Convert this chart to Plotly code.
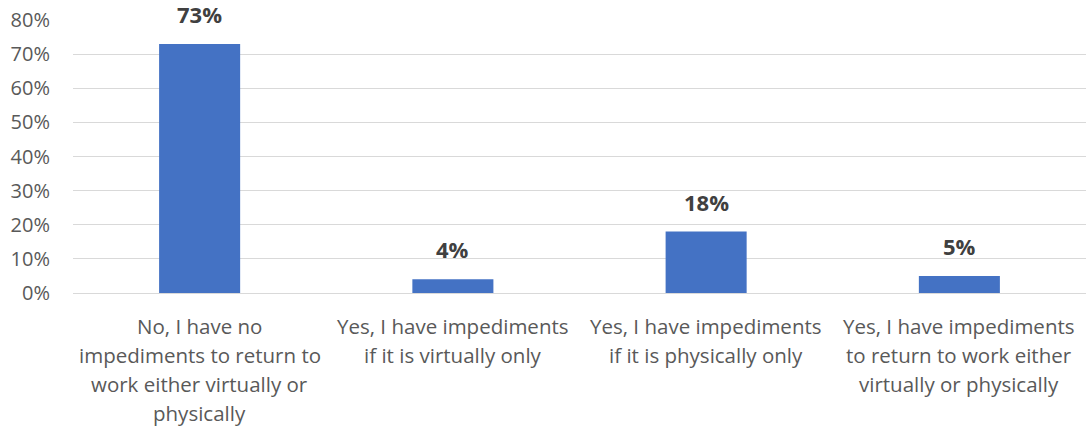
import plotly.graph_objects as go

# Survey responses: impediments to returning to work
categories = [
    "No, I have no<br>impediments to return to<br>work either virtually or<br>physically",
    "Yes, I have impediments<br>if it is virtually only",
    "Yes, I have impediments<br>if it is physically only",
    "Yes, I have impediments<br>to return to work either<br>virtually or physically",
]
shares = [0.73, 0.04, 0.18, 0.05]
y_ticks = [0, 0.1, 0.2, 0.3, 0.4, 0.5, 0.6, 0.7, 0.8]
y_tick_labels = ["0%", "10%", "20%", "30%", "40%", "50%", "60%", "70%", "80%"]

BAR_COLOR = "#4472C4"
TEXT_GRAY = "#595959"
FONT = "Open Sans"
LINE_STEP = 29  # vertical spacing between wrapped category label lines

fig = go.Figure(
    go.Bar(
        x=list(range(len(categories))),
        y=shares,
        width=0.32,
        marker=dict(color=BAR_COLOR, line=dict(width=0)),
        hoverinfo="skip",
    )
)

annotations = []
# value labels above each bar
for i, v in enumerate(shares):
    annotations.append(dict(
        x=i, y=v, xref="x", yref="y",
        text=f"<b>{v:.0%}</b>",
        showarrow=False, yanchor="bottom", yshift=13,
        font=dict(family=FONT, size=22, color="#404040"),
    ))
# wrapped category labels under the axis
for i, label in enumerate(categories):
    for j, line in enumerate(label.split("<br>")):
        annotations.append(dict(
            x=i, y=0, xref="x", yref="paper",
            text=line, showarrow=False,
            yanchor="middle", xanchor="center",
            yshift=-(33 + j * LINE_STEP),
            font=dict(family=FONT, size=20.5, color=TEXT_GRAY),
        ))

fig.update_layout(
    width=1086, height=428,
    margin=dict(l=73, r=0, t=20, b=135),
    paper_bgcolor="white", plot_bgcolor="white",
    showlegend=False,
    annotations=annotations,
    font=dict(family=FONT, color=TEXT_GRAY),
)
fig.update_xaxes(
    range=[-0.5, len(categories) - 0.5],
    showticklabels=False, showgrid=False, zeroline=False,
    showline=False, ticks="",
)
fig.update_yaxes(
    range=[0, 0.8],
    tickvals=y_ticks, ticktext=y_tick_labels,
    tickfont=dict(family=FONT, size=20, color=TEXT_GRAY),
    showgrid=True, gridcolor="#D9D9D9", gridwidth=1,
    zeroline=True, zerolinecolor="#D9D9D9", zerolinewidth=1,
    showline=False, ticks="", ticklabelstandoff=22,
)

fig.write_html("out.html")
